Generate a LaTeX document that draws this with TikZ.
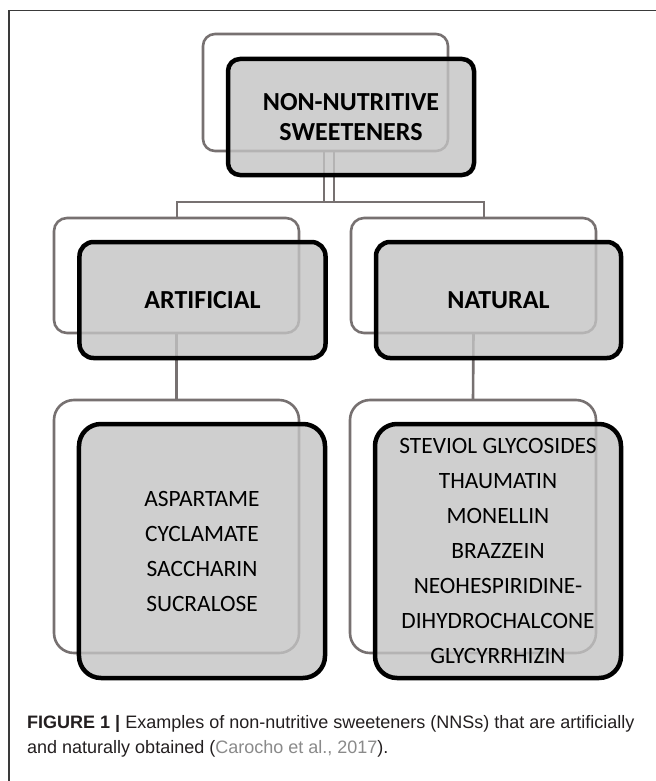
\documentclass[tikz,border=0pt]{standalone}
\usepackage{fontspec}
\setmainfont{Carlito}
\newfontfamily\capfont{Liberation Sans}
\definecolor{gline}{HTML}{777171}
\definecolor{boxfill}{HTML}{C4C4C4}
\definecolor{framecol}{HTML}{3A3A3A}
\definecolor{captext}{HTML}{231F20}
\definecolor{citegray}{HTML}{8A8A8A}
\tikzset{
  backbox/.style={draw=gline, line width=2.6bp, inner sep=0pt, outer sep=0pt},
  frontbox/.style={draw=black, line width=4.5bp, fill=boxfill, fill opacity=0.8, text opacity=1, draw opacity=1, inner sep=0pt, outer sep=0pt, align=center},
  conn/.style={draw=gline, line width=2.6bp},
  toptext/.style={font=\fontsize{26bp}{30bp}\selectfont\bfseries},
  listtext/.style={font=\fontsize{23.4bp}{35bp}\selectfont},
  captxt/.style={anchor=base west, inner sep=0pt, text=captext, font=\capfont\fontsize{18bp}{25bp}\selectfont}
}
\begin{document}
\begin{tikzpicture}[x=1bp,y=-1bp]
\useasboundingbox (0,0) rectangle (656,781);
\fill[white] (0,0) rectangle (656,781);
% frame (open at right and bottom, as cropped)
\draw[framecol, line width=1.5bp] (656,10.5) -- (9,10.5) -- (9,781);
% back boxes
\node[backbox, rounded corners=12bp, minimum width=245bp, minimum height=117bp] (nnsb) at (325.5,92.5) {};
\node[backbox, rounded corners=13bp, minimum width=245bp, minimum height=115bp] (artb) at (176.5,275.5) {};
\node[backbox, rounded corners=13bp, minimum width=245bp, minimum height=115bp] (natb) at (473.5,275.5) {};
\node[backbox, rounded corners=20bp, minimum width=245bp, minimum height=253bp] (asb) at (176.5,526.5) {};
\node[backbox, rounded corners=20bp, minimum width=246bp, minimum height=253bp] (nsb) at (473,526.5) {};
% connectors
\coordinate (barL) at (177,202);
\coordinate (barR) at (484,202);
\draw[conn] ([xshift=-1.5bp]nnsb.south) -- ([xshift=-1.5bp]nnsb.south |- barL);
\draw[conn] ([xshift=8.5bp]nnsb.south) -- ([xshift=8.5bp]nnsb.south |- barL);
\draw[conn] (barL |- artb.north) -- (barL) -- (barR) -- (barR |- natb.north);
\draw[conn] (artb.south) -- (asb.north);
\draw[conn] (natb.south) -- (nsb.north);
% front boxes
\node[frontbox, rounded corners=12bp, minimum width=246bp, minimum height=116bp, toptext] (nns) at (351,117) {NON-NUTRITIVE\\SWEETENERS};
\node[frontbox, rounded corners=14bp, minimum width=246bp, minimum height=116bp, toptext] (art) at (202.5,300) {ARTIFICIAL};
\node[frontbox, rounded corners=14bp, minimum width=245bp, minimum height=116bp, toptext] (nat) at (498.5,300) {NATURAL};
\node[frontbox, rounded corners=22bp, minimum width=246bp, minimum height=254bp, listtext] (as) at (202,551) {ASPARTAME\\CYCLAMATE\\SACCHARIN\\SUCRALOSE};
\node[frontbox, rounded corners=22bp, minimum width=246bp, minimum height=254bp, listtext] (ns) at (498,551) {STEVIOL GLYCOSIDES\\THAUMATIN\\MONELLIN\\BRAZZEIN\\NEOHESPIRIDINE-\\DIHYDROCHALCONE\\GLYCYRRHIZIN};
% caption
\node[captxt] (cap1) at (27,728) {{\bfseries FIGURE 1 |} Examples of non-nutritive sweeteners (NNSs) that are artificially};
\node[captxt] (cap2) at (27,753) {and naturally obtained ({\color{citegray}Carocho et al., 2017}).};
\end{tikzpicture}
\end{document}
